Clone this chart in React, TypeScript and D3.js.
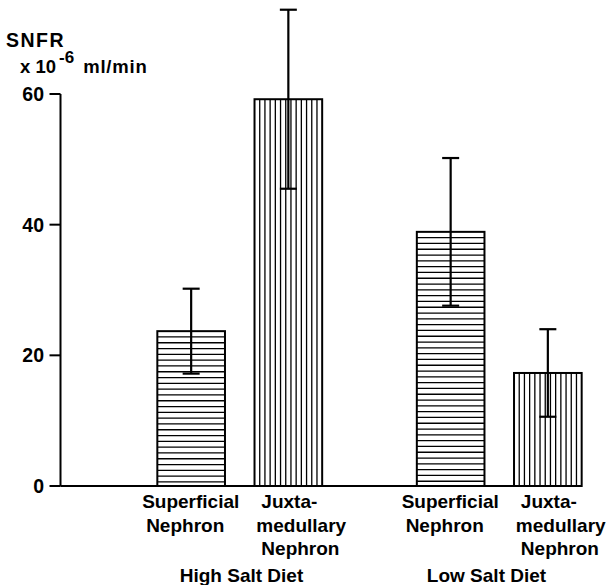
import React from "react";
import * as d3 from "d3";

// SNFR (x 10^-6 ml/min) by nephron type and diet, mean ± error
const diets = ["High Salt Diet", "Low Salt Diet"];
const nephrons = ["Superficial", "Juxtamedullary"];
const highSaltMeans = [23.7, 59.2];
const highSaltErrors = [6.5, 13.7];
const lowSaltMeans = [38.9, 17.3];
const lowSaltErrors = [11.3, 6.7];
const yTicks = [0, 20, 40, 60];

// category label lines under each bar
const superficialLines = ["Superficial", "Nephron"];
const juxtaLines = ["Juxta-", "medullary", "Nephron"];

const W = 609;
const H = 585;
const FONT = "'Liberation Sans', Arial, Helvetica, sans-serif";

export default function App() {
  const y = d3.scaleLinear().domain([0, 60]).range([486, 94]);
  const outer = d3.scaleBand<string>().domain(diets).range([110, 629]);
  const inner = d3
    .scaleBand<string>()
    .domain(nephrons)
    .range([0, outer.bandwidth()])
    .paddingInner(0.304)
    .paddingOuter(0.487);

  const rows = diets.flatMap((diet, gi) =>
    nephrons.map((n, ni) => ({
      diet,
      nephron: n,
      mean: gi === 0 ? highSaltMeans[ni] : lowSaltMeans[ni],
      err: gi === 0 ? highSaltErrors[ni] : lowSaltErrors[ni],
    }))
  );

  const axisX = 60.5;
  const baseY = y(0);
  const hSpacing = 5.8;

  return (
    <div style={{ position: "absolute", left: 0, top: 0 }}>
      <svg width={W} height={H} style={{ display: "block", background: "#fff" }}>
        {/* y axis title */}
        <text x={6} y={47} fontFamily={FONT} fontWeight="bold" fontSize={19.5} letterSpacing={1.5}>
          SNFR
        </text>
        <text x={20} y={73} fontFamily={FONT} fontWeight="bold" fontSize={18.5}>
          x 10
          <tspan dx={3} dy={-10} fontSize={17}>-6</tspan>
          <tspan dy={10} dx={9} letterSpacing={0.8}>ml/min</tspan>
        </text>

        {/* y axis */}
        <line x1={axisX} x2={axisX} y1={y(60)} y2={baseY} stroke="#000" strokeWidth={2} />
        {yTicks.map((t) => (
          <g key={t}>
            <line x1={axisX - 11} x2={axisX} y1={y(t)} y2={y(t)} stroke="#000" strokeWidth={2} />
            <text
              x={44}
              y={y(t)}
              dy="0.36em"
              textAnchor="end"
              fontFamily={FONT}
              fontWeight="bold"
              fontSize={19.5}
            >
              {t}
            </text>
          </g>
        ))}

        {/* x axis baseline */}
        <line x1={axisX} x2={582} y1={baseY} y2={baseY} stroke="#000" strokeWidth={2} />

        {/* bars */}
        {rows.map((r, i) => {
          const x0 = (outer(r.diet) as number) + (inner(r.nephron) as number);
          const bw = inner.bandwidth();
          const top = y(r.mean);
          const cx = x0 + bw / 2;
          const horizontal = r.nephron === "Superficial";
          const hatch = horizontal
            ? d3.range(top + hSpacing, baseY, hSpacing).map((yy, k) => (
                <line key={k} x1={x0} x2={x0 + bw} y1={yy} y2={yy} stroke="#000" strokeWidth={1.3} />
              ))
            : d3.range(1, 13).map((k) => {
                const xx = x0 + (bw * k) / 13;
                return <line key={k} x1={xx} x2={xx} y1={top} y2={baseY} stroke="#000" strokeWidth={1.3} />;
              });
          const yHi = y(r.mean + r.err);
          const yLo = y(r.mean - r.err);
          return (
            <g key={i}>
              <rect x={x0} y={top} width={bw} height={baseY - top} fill="#fff" stroke="#000" strokeWidth={2} />
              {hatch}
              <line x1={cx} x2={cx} y1={yHi} y2={yLo} stroke="#000" strokeWidth={2.2} />
              <line x1={cx - 8.5} x2={cx + 8.5} y1={yHi} y2={yHi} stroke="#000" strokeWidth={2.2} />
              <line x1={cx - 8.5} x2={cx + 8.5} y1={yLo} y2={yLo} stroke="#000" strokeWidth={2.2} />
              {(horizontal ? superficialLines : juxtaLines).map((s, li) => {
                const dx = horizontal
                  ? li === 0
                    ? -49
                    : -45
                  : li === 1
                  ? -32
                  : -27;
                return (
                  <text
                    key={li}
                    x={cx + dx}
                    y={508 + li * 23.5}
                    fontFamily={FONT}
                    fontWeight="bold"
                    fontSize={19}
                  >
                    {s}
                  </text>
                );
              })}
            </g>
          );
        })}

        {/* diet group labels */}
        {diets.map((d, gi) => (
          <text
            key={d}
            x={(outer(d) as number) + (gi === 0 ? 131.5 : 117)}
            y={582}
            textAnchor="middle"
            fontFamily={FONT}
            fontWeight="bold"
            fontSize={19}
          >
            {d}
          </text>
        ))}
      </svg>
    </div>
  );
}
